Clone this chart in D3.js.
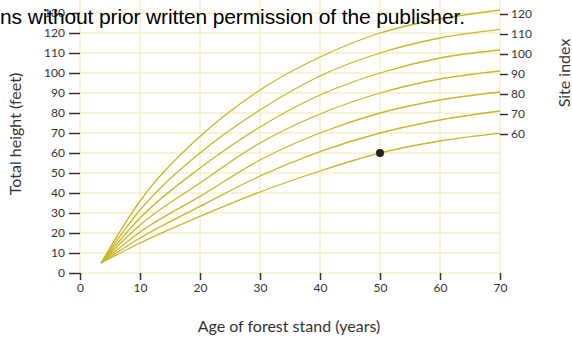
<!DOCTYPE html>
<html>
<head>
<meta charset="utf-8">
<script src="https://cdn.jsdelivr.net/npm/d3@7"></script>
<style>
  body { margin: 0; background: #fff; }
  svg { display: block; }
</style>
</head>
<body>
<script>
var w = 572;
var h = 337;

var ages = [3.5, 10, 20, 30, 40, 50, 60, 70];
var siteIndex = [60, 70, 80, 90, 100, 110, 120];
var si60 = [5, 15, 28.3, 40.5, 51, 60, 66, 69.8];
var si70 = [5, 17.5, 33.3, 48.5, 60.7, 70, 76.5, 81];
var si80 = [5, 20.5, 38.3, 56.5, 70, 80, 86.5, 90.5];
var si90 = [5, 24, 45, 65, 79.5, 90, 97, 101];
var si100 = [5, 27.5, 52.5, 73, 89, 100, 107.5, 111.5];
var si110 = [5, 31.5, 60, 81.5, 98.5, 110, 117.5, 121.8];
var si120 = [5, 36, 68.3, 91.5, 108, 120, 127, 131.5];
var curves = [si60, si70, si80, si90, si100, si110, si120];

// the marked point
var markAge = 50;
var markHeight = 60;

var xTicks = [0, 10, 20, 30, 40, 50, 60, 70];
var yTicks = [0, 10, 20, 30, 40, 50, 60, 70, 80, 90, 100, 110, 120, 130];

var lineColor = "#c9b728";
var gridColor = "#f4efc9";
var textColor = "#333";
var font = "Lato, 'Noto Sans', sans-serif";

var svg = d3.select("body")
            .append("svg")
            .attr("width", w)
            .attr("height", h);

var xScale = d3.scaleLinear()
               .domain([0, 70])
               .range([80, 500]);

var yScale = d3.scaleLinear()
               .domain([0, 120])
               .range([273, 33]);

// right hand axis for the site index labels
var siteScale = d3.scaleLinear()
                  .domain([60, 120])
                  .range([134, 14]);

// grid
svg.append("g")
   .selectAll("line")
   .data(xTicks)
   .enter()
   .append("line")
   .attr("x1", function (d) { return xScale(d); })
   .attr("x2", function (d) { return xScale(d); })
   .attr("y1", 0)
   .attr("y2", yScale(0))
   .attr("stroke", gridColor)
   .attr("stroke-width", 1.5);

svg.append("g")
   .selectAll("line")
   .data(yTicks)
   .enter()
   .append("line")
   .attr("x1", xScale(0))
   .attr("x2", xScale(70))
   .attr("y1", function (d) { return yScale(d); })
   .attr("y2", function (d) { return yScale(d); })
   .attr("stroke", gridColor)
   .attr("stroke-width", 1.5);

// axes
var xAxis = d3.axisBottom(xScale)
              .tickValues(xTicks)
              .tickSize(7)
              .tickPadding(3);

var yAxis = d3.axisLeft(yScale)
              .tickValues(yTicks)
              .tickSize(11)
              .tickPadding(4);

var siteAxis = d3.axisRight(siteScale)
                 .tickValues(siteIndex)
                 .tickSize(8)
                 .tickPadding(3);

function styleAxis(g) {
    g.select(".domain").remove();
    g.selectAll(".tick line").attr("stroke", textColor).attr("stroke-width", 1.5);
    g.selectAll(".tick text")
     .attr("fill", textColor)
     .style("font-family", font)
     .style("font-size", "12px");
}

svg.append("g")
   .attr("transform", "translate(0," + yScale(0) + ")")
   .call(xAxis)
   .call(styleAxis);

svg.append("g")
   .attr("transform", "translate(" + xScale(0) + ",0)")
   .call(yAxis)
   .call(styleAxis);

svg.append("g")
   .attr("transform", "translate(" + xScale(70) + ",0)")
   .call(siteAxis)
   .call(styleAxis);

// curves
var line = d3.line()
             .x(function (d, i) { return xScale(ages[i]); })
             .y(function (d) { return yScale(d); })
             .curve(d3.curveMonotoneX);

svg.append("g")
   .selectAll("path")
   .data(curves)
   .enter()
   .append("path")
   .attr("d", line)
   .attr("fill", "none")
   .attr("stroke", lineColor)
   .attr("stroke-width", 1.3);

svg.append("circle")
   .attr("cx", xScale(markAge))
   .attr("cy", yScale(markHeight))
   .attr("r", 4)
   .attr("fill", "#222");

// axis titles
svg.append("text")
   .attr("x", 289)
   .attr("y", 332)
   .attr("text-anchor", "middle")
   .attr("fill", textColor)
   .style("font-family", font)
   .style("font-size", "16px")
   .text("Age of forest stand (years)");

svg.append("text")
   .attr("transform", "translate(21,134) rotate(-90)")
   .attr("text-anchor", "middle")
   .attr("fill", textColor)
   .style("font-family", font)
   .style("font-size", "16px")
   .text("Total height (feet)");

svg.append("text")
   .attr("transform", "translate(570,73) rotate(-90)")
   .attr("text-anchor", "middle")
   .attr("fill", textColor)
   .style("font-family", font)
   .style("font-size", "16px")
   .text("Site index");

// copyright line printed over the top of the chart
svg.append("text")
   .attr("x", 0)
   .attr("y", 24)
   .attr("fill", "#000")
   .attr("textLength", 465)
   .style("font-family", "'Liberation Sans', Arial, sans-serif")
   .style("font-size", "21px")
   .text("ns without prior written permission of the publisher.");
</script>
</body>
</html>
